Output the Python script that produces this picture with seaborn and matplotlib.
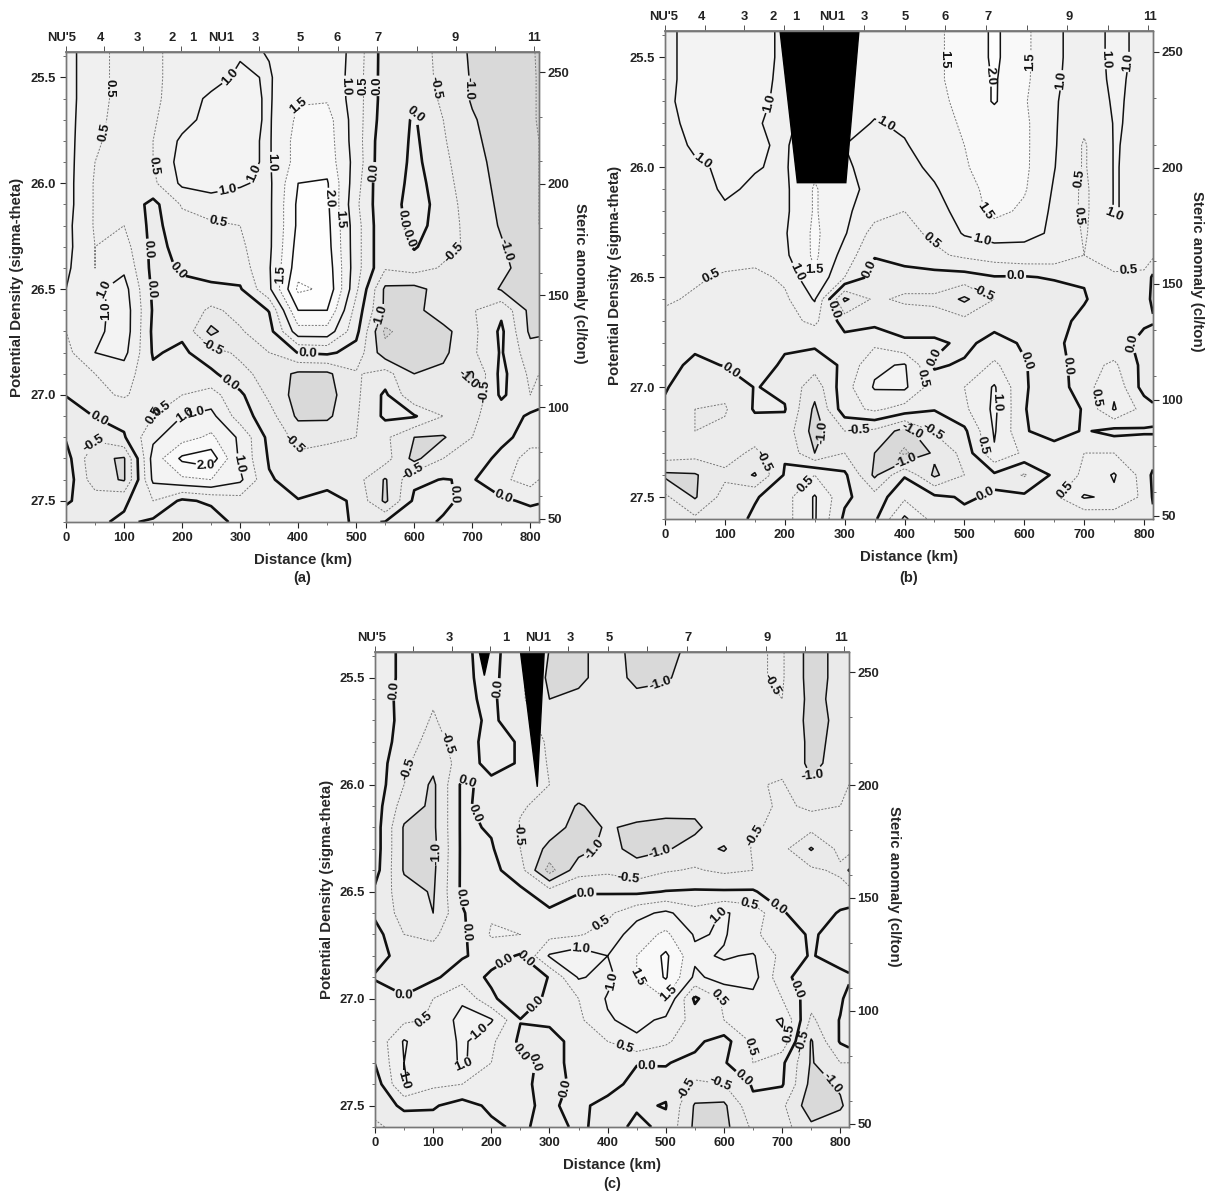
import matplotlib
matplotlib.use("Agg")
import matplotlib.pyplot as plt
import numpy as np
import seaborn as sns

# grid of the sections: distance along the line and density surfaces
distance_km = [0, 50, 100, 150, 200, 250, 300, 350, 400, 450, 500, 550, 600, 650, 700, 750, 800, 815]
sigma_theta = [25.35, 25.5, 25.6, 25.7, 25.8, 25.9, 26.0, 26.1, 26.2, 26.3, 26.4, 26.5,
               26.6, 26.7, 26.8, 26.9, 27.0, 27.1, 27.2, 27.3, 27.4, 27.5, 27.6]

# values, one row per density surface
values_a = [
    [1.2, .65, .35, .4, .7, .8, .9, 1.05, 1.4, 1.4, .8, -.25, -.35, -.6, -1.1, -1.25, -1.4, -1.6],
    [1.2, .65, .35, .4, .7, .8, 1.1, .95, 1.4, 1.4, .75, -.25, -.3, -.6, -1.05, -1.25, -1.4, -1.55],
    [1.2, .65, .35, .4, .75, 1.1, 1.15, .95, 1.45, 1.45, .75, -.25, -.1, -.6, -1.05, -1.25, -1.4, -1.55],
    [1.2, .6, .35, .45, .8, 1.2, 1.15, .95, 1.6, 1.7, .75, -.3, .05, -.5, -.95, -1.25, -1.4, -1.55],
    [1.2, .55, .35, .5, 1.1, 1.3, 1.1, .95, 1.7, 1.75, .75, -.4, .1, -.45, -.9, -1.2, -1.4, -1.5],
    [1.2, .5, .35, .5, 1.2, 1.4, 1.1, .95, 1.7, 1.8, .8, -.45, .15, -.4, -.8, -1.2, -1.4, -1.5],
    [1.2, .45, .3, .4, 1.1, 1.3, 1.05, .9, 2.0, 2.05, .7, -.5, .25, -.35, -.75, -1.15, -1.4, -1.5],
    [1.2, .45, .35, -.15, .55, .65, .8, .9, 2.1, 2.1, .6, -.45, .35, -.3, -.7, -1.1, -1.4, -1.5],
    [1.15, .45, .5, -.15, .3, .45, .5, .9, 2.1, 2.15, .7, -.45, .25, -.3, -.65, -1.05, -1.4, -1.5],
    [1.15, .5, .7, -.15, .15, .35, .4, .9, 2.2, 2.2, .7, -.45, .05, -.35, -.6, -.95, -1.35, -1.45],
    [1.1, .5, .9, -.15, .05, .2, .25, .95, 2.3, 2.3, .7, -.45, -.3, -.55, -.65, -.85, -1.3, -1.4],
    [1.0, .9, 1.2, -.1, -.1, -.1, -.05, .9, 2.6, 2.4, .6, -1.1, -1.15, -.8, -.6, -1.05, -1.3, -1.35],
    [.6, .8, 1.3, -.05, -.15, -.6, -.35, .02, 2.0, 2.0, .3, -1.1, -1.15, -.7, -.55, -.1, -1.15, -1.2],
    [.5, .85, 1.3, -.1, -.1, -1.15, -.55, -.2, 1.3, 1.3, .15, -1.6, -1.2, -1.15, -.65, .1, -1.1, -1.1],
    [.35, 1.0, 1.15, -.05, .1, -.3, -.6, -.5, .02, .1, -.2, -1.3, -1.3, -1.1, -.6, .05, -.8, -.7],
    [.1, .5, .75, .1, .3, .1, -.35, -.7, -1.1, -1.1, -.55, -.3, -1.0, -.9, -1.05, .15, -.6, -.5],
    [.02, .4, .55, .25, .5, .7, .1, -.6, -1.2, -1.2, -.6, .1, -.95, -.9, -.95, .1, -.5, -.4],
    [-.3, .02, .15, .5, 1.0, 1.15, .25, -.3, -1.1, -1.1, -.55, .1, .05, -.5, -.55, -.35, .1, .2],
    [-.05, -.4, -.05, .9, 1.3, 1.6, .9, -.15, -.65, -.6, -.5, -.4, -1.0, -1.05, -.5, -.2, .3, .4],
    [.2, -.9, -1.05, 1.2, 2.1, 2.3, .9, -.05, -.4, -.3, -.3, -.3, -1.15, -.5, -.4, .2, .7, .6],
    [.3, -.8, -1.05, 1.1, 1.4, 1.5, 1.1, .05, -.2, -.2, -.3, -1.05, -.1, .02, -.05, .4, .7, .5],
    [.05, -.2, -.1, .5, -.1, .1, .3, .05, .02, .2, -.1, -1.1, .1, .2, -.3, -.1, .1, .05],
    [-.2, -.1, .1, -.1, -.2, -.3, .2, .1, .2, .3, -.1, .02, .3, -.1, -.4, -.3, -.3, -.3],
]

values_b = [
    [.9, 1.15, 1.2, 1.2, .9, 1.3, 1.3, 1.1, 1.1, 1.45, 1.6, 2.1, 1.6, 1.15, .65, 1.15, .85, .6],
    [.9, 1.15, 1.2, 1.2, .9, 1.3, 1.3, 1.2, 1.3, 1.45, 1.6, 2.1, 1.6, 1.15, .65, 1.15, .85, .6],
    [.9, 1.15, 1.2, 1.15, .9, 1.3, 1.3, 1.25, 1.3, 1.45, 1.6, 2.05, 1.6, 1.1, .7, 1.1, .85, .6],
    [.95, 1.1, 1.2, 1.1, .9, 1.3, 1.3, 1.2, 1.3, 1.4, 1.6, 2.05, 1.55, 1.05, .7, 1.05, .9, .65],
    [.9, 1.1, 1.15, 1.05, .85, 1.3, 1.3, .95, 1.1, 1.35, 1.55, 1.7, 1.6, 1.05, .6, 1.02, .95, .7],
    [.85, 1.05, 1.1, 1.05, .95, 1.3, 1.0, .85, .95, 1.3, 1.5, 1.7, 1.6, 1.05, .45, 1.02, .92, .7],
    [.8, .95, 1.05, 1.02, .95, 1.4, 1.1, .75, .85, 1.1, 1.45, 1.75, 1.6, 1.02, .45, 1.02, .9, .7],
    [.75, .85, 1.05, .95, .9, 1.55, 1.1, .9, .6, .95, 1.3, 1.7, 1.55, .95, .4, 1.02, .9, .7],
    [.75, .8, .95, .85, .9, 1.55, 1.1, .7, .5, .8, 1.2, 1.65, 1.4, .9, .4, 1.02, .9, .7],
    [.7, .75, .8, .9, .95, 1.6, 1.05, .3, .35, .6, 1.05, 1.2, 1.1, .95, .45, .9, .85, .65],
    [.65, .6, .65, .7, .9, 1.6, .8, .03, .2, .4, .6, .75, .85, .8, .5, .65, .7, .6],
    [.7, .55, .45, .35, .6, 1.45, .5, -.2, -.2, -.2, -.2, -.03, -.04, .05, .05, .45, .4, -.1],
    [.55, .45, .35, .35, .4, 1.05, -1.1, -.4, -.6, -.6, -1.1, -.5, -.3, -.3, -.05, .4, .2, -.1],
    [.4, .4, .35, .3, .35, .6, -.2, -.15, -.15, -.3, -.35, -.15, -.2, -.2, .15, .25, .05, .05],
    [.3, .1, .2, .25, .1, .1, .2, .4, .05, .1, -.1, .15, -.05, -.1, .2, .15, -.1, -.3],
    [.15, -.1, .02, .3, -.1, -.3, .1, .9, 1.05, -.05, .05, .6, .03, -.25, .3, .6, -.15, -.4],
    [.05, -.35, -.35, .02, -.1, -.8, .3, 1.05, 1.1, .2, .5, 1.05, .05, -.3, .3, .9, -.2, -.5],
    [-.1, -.5, -.55, .05, .03, -1.1, .3, .6, .3, .03, .4, 1.1, .03, -.4, .05, 1.05, .3, .2],
    [-.3, -.5, -.4, -.25, -.2, -1.2, -.5, -.6, -1.2, -.45, -.1, 1.05, .05, -.25, .05, -.15, -.05, -.05],
    [-.2, -.3, -.3, -.6, -.05, -1.0, -.5, -1.0, -1.6, -.9, -.35, .95, .4, .3, .5, .5, .3, .3],
    [-1.1, -1.05, -.6, -1.05, .05, .5, .1, -1.1, -.05, -1.1, -.5, -.1, -.55, .1, .6, 1.05, .3, -.1],
    [-.4, -1.05, -.3, -.05, .3, 1.05, .1, -.3, .4, .1, -.05, .05, .1, .4, 1.05, .9, .4, -.05],
    [-.3, -.4, -.3, .1, .3, 1.05, -.1, -.1, 1.1, .3, .1, .05, .1, .03, .1, .2, .1, .1],
]

values_c = [
    [.5, -.2, -.3, -.1, .2, -.4, -1.0, -1.1, -.8, -1.15, -1.2, -.85, -.65, -.55, -.45, -1.2, -.85, -.7],
    [.5, -.2, -.3, -.1, .15, -.4, -1.1, -1.1, -.8, -1.1, -1.05, -.8, -.65, -.55, -.45, -1.2, -.85, -.7],
    [.45, -.25, -.45, -.1, .1, -.4, -1.0, -.9, -.8, -.9, -.85, -.8, -.7, -.6, -.5, -1.15, -.85, -.7],
    [.4, -.2, -.55, -.2, .1, -.3, -.7, -.75, -.75, -.75, -.75, -.7, -.7, -.65, -.6, -1.15, -.9, -.75],
    [.35, -.25, -.7, -.25, .2, -.05, -.6, -.7, -.7, -.7, -.7, -.7, -.7, -.65, -.65, -1.1, -.9, -.7],
    [.3, -.4, -.85, -.3, .2, -.05, -.55, -.7, -.7, -.7, -.7, -.7, -.7, -.65, -.65, -1.1, -.85, -.6],
    [.3, -.5, -1.1, .1, -.15, -.2, -.5, -.7, -.7, -.7, -.7, -.65, -.65, -.55, -.45, -.95, -.7, -.5],
    [.25, -.75, -1.1, .1, -.2, -.45, -.65, -1.05, -.8, -.7, -.8, -.85, -.75, -.6, -.45, -.55, -.5, -.35],
    [.25, -1.05, -1.1, .1, -.05, -.55, -.75, -1.2, -.95, -1.1, -1.15, -1.1, -.7, -.55, -.4, -.35, -.3, -.3],
    [.25, -1.05, -1.15, .1, .05, -.5, -1.15, -1.2, -.85, -1.15, -1.05, -.8, -1.05, -.45, -.35, -1.05, -.35, -.3],
    [.2, -1.05, -1.1, .1, .15, -.3, -1.7, -.7, -.6, -.8, -.55, -.45, -.6, -.5, -.3, -.4, -.6, -1.05],
    [-.1, -.8, -1.05, .1, .35, .1, -.3, -.05, -.05, -.1, .02, .05, .05, .05, -.3, -.4, -.3, -.3],
    [-.1, -.7, -1.0, -.05, .45, .35, .1, .4, .4, .85, 1.1, .7, 1.05, .8, .05, -.3, .05, .1],
    [.2, -.5, -.6, -.1, .55, .5, .35, .45, .7, 1.25, 1.6, .95, 1.05, .6, .2, -.05, .15, .2],
    [.2, -.2, -.3, -.05, .2, -.05, 1.05, 1.3, 1.0, 1.5, 2.1, 1.1, .95, 1.05, .35, -.05, .3, .4],
    [-.05, -.1, -.1, .3, -.1, -.45, .03, 1.05, .85, 1.5, 2.05, .9, 1.2, 1.2, .15, -.3, -.2, -.1],
    [.3, .02, .5, .9, .1, -.4, .15, .5, 1.05, 1.5, 1.5, -.1, .6, .85, .5, -.3, -.1, .2],
    [.3, .4, .55, 1.2, 1.05, .02, .1, .4, .95, 1.15, .9, .3, .5, .8, 1.05, -.6, .03, .3],
    [.1, 1.05, .6, 1.1, .6, -.1, -.2, .2, .5, .9, .6, .1, -.2, .6, .9, -1.05, .05, .2],
    [.02, 1.0, .5, 1.1, .5, .1, -.1, .1, .4, .05, .02, -.1, -.05, .5, .1, -1.05, -.5, -.5],
    [-.3, 1.05, .6, .5, .5, .2, -.3, .2, .35, -.3, -.1, -.6, -.5, .05, .05, -1.15, -.95, -.85],
    [-.3, .1, .05, -.2, .1, .1, -.1, .2, -.3, -.05, .02, -1.05, -1.1, -.1, -.4, -1.3, -1.05, -.9],
    [-.6, -.3, -.2, -.3, -.1, .1, -.2, .1, -.2, .1, -.1, -1.1, -1.15, -.4, -.3, -.9, -.8, -.7],
]

# where the contour values are written in each panel (km, sigma)
label_spots_a = [
    (295, 25.53), (78, 25.55), (48, 25.75), (164, 25.91), (279, 26.04), (260, 26.21), (140, 26.31),
    (193, 26.41), (157, 26.5), (41, 26.49), (55, 26.6), (55, 27.12), (48, 27.23), (150, 27.01),
    (169, 27.09), (219, 27.05), (226, 27.13), (240, 27.35), (305, 27.32), (283, 26.94), (252, 26.77),
    (388, 25.59), (355, 25.9), (338, 25.97), (447, 26.07), (479, 26.17), (372, 26.43), (417, 26.81),
    (395, 27.23), (478, 25.54), (498, 25.54), (521, 25.54), (540, 25.95), (609, 25.67), (602, 26.16),
    (583, 26.27), (631, 25.55), (667, 25.55), (652, 26.28), (741, 26.33), (536, 26.62), (688, 26.94),
    (710, 26.98), (688, 27.46), (757, 27.45), (605, 27.39),
]
label_spots_b = [
    (55, 26.0), (164, 25.7), (217, 26.48), (250, 26.48), (78, 26.5), (332, 26.45), (366, 25.81),
    (449, 25.51), (534, 25.59), (624, 25.52), (651, 25.6), (721, 25.51), (771, 25.52), (686, 26.05),
    (666, 26.23), (738, 26.25), (526, 26.23), (457, 26.3), (526, 26.36), (586, 26.5), (775, 26.52),
    (531, 26.58), (112, 26.92), (439, 26.85), (429, 26.96), (614, 26.87), (776, 26.8), (683, 26.9),
    (720, 27.05), (551, 27.07), (412, 27.2), (454, 27.19), (257, 27.2), (324, 27.24), (279, 26.65),
    (160, 27.34), (227, 27.42), (401, 27.33), (521, 27.27), (531, 27.46), (656, 27.44),
]
label_spots_c = [
    (36, 25.56), (213, 25.55), (46, 25.92), (132, 25.8), (165, 25.95), (184, 26.12), (105, 26.32),
    (141, 26.53), (256, 26.23), (382, 26.32), (494, 26.36), (490, 25.53), (678, 25.54), (659, 26.25),
    (761, 25.98), (435, 26.45), (363, 26.52), (692, 26.57), (385, 26.63), (583, 26.6), (642, 26.59),
    (148, 26.69), (356, 26.75), (217, 26.8), (263, 26.8), (392, 26.9), (435, 26.93), (501, 26.97),
    (590, 27.0), (46, 27.0), (93, 27.11), (277, 27.03), (184, 27.17), (231, 27.27), (158, 27.33),
    (40, 27.38), (296, 27.29), (429, 27.22), (656, 27.22), (725, 26.96), (706, 27.16), (735, 27.2),
    (468, 27.34), (534, 27.42), (592, 27.43), (627, 27.39), (778, 27.41), (317, 27.41),
]

# stations named along the top of each panel (km)
station_km_a = [-8, 60, 122, 183, 218, 267, 327, 403, 467, 537, 671, 806]
station_names_a = ["NU'5", "4", "3", "2", "1", "NU1", "3", "5", "6", "7", "9", "11"]
station_km_b = [-2, 61, 132, 181, 218, 279, 333, 401, 468, 539, 675, 810]
station_names_b = ["NU'5", "4", "3", "2", "1", "NU1", "3", "5", "6", "7", "9", "11"]
station_km_c = [-5, 127, 224, 281, 335, 402, 539, 675, 802]
station_names_c = ["NU'5", "3", "1", "NU1", "3", "5", "7", "9", "11"]
top_ticks_km = [0, 66, 132, 198, 264, 332, 400, 468, 536, 604, 672, 740, 806]

# blacked out parts of the sections, no data there
gap_b_km = [192, 324, 302, 221]
gap_b_sigma = [25.377, 25.377, 26.07, 26.07]
gap_c1_km = [250, 291, 279]
gap_c1_sigma = [25.377, 25.377, 26.01]
gap_c2_km = [179, 197, 188]
gap_c2_sigma = [25.377, 25.377, 25.49]

levels = [-2.0, -1.5, -1.0, -0.5, 0.0, 0.5, 1.0, 1.5, 2.0, 2.5]
W, H = 1210, 1196

sns.set_theme(style="ticks")
plt.rcParams["font.family"] = ["Liberation Sans", "DejaVu Sans"]
plt.rcParams["font.weight"] = "bold"
plt.rcParams["axes.labelweight"] = "bold"

fill_cols = sns.color_palette(["#cfcfcf", "#d2d2d2", "#d9d9d9", "#eaeaea", "#ececec", "#eeeeee",
                               "#f0f0f0", "#f3f3f3", "#f9f9f9", "#fefefe", "#ffffff"])
widths = [1.1 if l % 1 == 0 else 0.7 for l in levels]
widths[levels.index(0.0)] = 1.9
styles = ["solid" if l % 1 == 0 else (0, (2, 1.5)) for l in levels]
line_cols = ["#111111" if l % 1 == 0 else "#777777" for l in levels]


def draw_panel(box, values, spots, names, names_km, tag, ylab_x, rlab_x, gaps):
    left, top, right, bottom = box
    ax = fig.add_axes([left / W, 1 - bottom / H, (right - left) / W, (bottom - top) / H])
    z = np.array(values)
    ax.contourf(distance_km, sigma_theta, z, levels=[-9] + levels + [9], colors=fill_cols)
    cs = ax.contour(distance_km, sigma_theta, z, levels=levels, colors=line_cols,
                    linewidths=widths, linestyles=styles)
    ax.set_xlim(0, 815)
    ax.set_ylim(27.594, 25.38)
    labels = ax.clabel(cs, fmt="%.1f", fontsize=9.5, inline=True, inline_spacing=1, manual=spots)
    for t in labels:
        t.set_fontweight("bold")
        t.set_color("#111111")
    for gx, gy in gaps:
        ax.fill(gx, gy, color="black", zorder=5)

    ax.set_xticks(range(0, 801, 100))
    ax.set_xticks(range(50, 801, 100), minor=True)
    ax.set_yticks([25.5, 26.0, 26.5, 27.0, 27.5])
    ax.set_yticklabels(["25.5", "26.0", "26.5", "27.0", "27.5"])
    ax.set_yticks(np.arange(25.4, 27.6, 0.1), minor=True)
    ax.tick_params(axis="both", which="major", labelsize=9.4, length=4, width=0.8, colors="#222222", pad=3)
    ax.tick_params(axis="both", which="minor", length=2.5, width=0.6, color="#555555")
    ax.set_xlabel("Distance (km)", fontsize=10.8, labelpad=7)
    ax.set_ylabel("Potential Density (sigma-theta)", fontsize=10.8)
    ax.yaxis.set_label_coords(ylab_x, 0.5)
    ax.text(0.5, -0.12, tag, transform=ax.transAxes, ha="center", va="center", fontsize=10.5)

    # station names on top, the first one sits just outside the axis
    for km, name in zip(names_km, names):
        ax.annotate(name, (km, 1), xycoords=ax.get_xaxis_transform(), xytext=(0, 6),
                    textcoords="offset points", ha="center", va="bottom", fontsize=9.4,
                    annotation_clip=False, color="#222222")
    sec = ax.secondary_xaxis("top")
    sec.set_xticks(top_ticks_km)
    sec.set_xticklabels([])
    sec.tick_params(axis="x", which="major", length=4, width=0.7, color="#555555")

    # steric anomaly scale on the right
    rax = ax.twinx()
    rax.set_ylim(48.5, 259)
    rax.set_yticks([50, 100, 150, 200, 250])
    rax.set_yticks([60, 80, 110, 130, 160, 180, 210, 230], minor=True)
    rax.tick_params(axis="y", which="major", labelsize=9.4, length=4, width=0.8, pad=2)
    rax.tick_params(axis="y", which="minor", length=2.5, width=0.6, color="#555555")
    rax.set_ylabel("Steric anomaly (cl/ton)", fontsize=10.8, rotation=270)
    rax.yaxis.set_label_coords(rlab_x, 0.507)
    for a in [ax, rax]:
        for sp in a.spines.values():
            sp.set_color("#777777")
            sp.set_linewidth(1.0)
    sec.spines["top"].set_color("#777777")
    return ax


fig = plt.figure(figsize=(W / 100, H / 100), dpi=100, facecolor="white")
draw_panel((66, 52, 539, 522), values_a, label_spots_a, station_names_a, station_km_a, "(a)",
           -0.089, 1.102, [])
draw_panel((665, 31, 1153, 519), values_b, label_spots_b, station_names_b, station_km_b, "(b)",
           -0.088, 1.104, [(gap_b_km, gap_b_sigma)])
draw_panel((375, 652, 849, 1127), values_c, label_spots_c, station_names_c, station_km_c, "(c)",
           -0.0865, 1.109, [(gap_c1_km, gap_c1_sigma), (gap_c2_km, gap_c2_sigma)])

fig.savefig("out.png", dpi=100)
